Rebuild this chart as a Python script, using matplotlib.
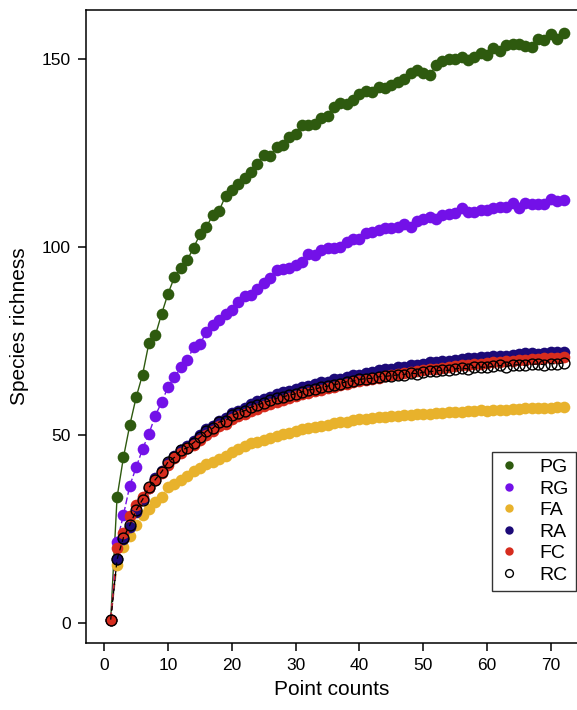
import matplotlib
matplotlib.use("Agg")
import matplotlib.pyplot as plt
import numpy as np

plt.rcParams['font.family'] = ['Liberation Sans', 'DejaVu Sans']

point_counts = list(range(1, 73))

PG = [1, 33.5, 44.1, 52.7, 60.1, 66.1, 74.5, 76.5, 82.3, 87.6, 92, 94.5, 96.5, 99.8, 103.3, 105.3, 108.4, 109.6,
      113.5, 115.2, 116.6, 118.2, 119.9, 122.1, 124.3, 124.2, 126.4, 127, 129.2, 130.1, 132.3, 132.3, 132.5, 134.1,
      134.7, 137.2, 138.2, 137.9, 139, 140.5, 141.4, 141.2, 142.5, 142.3, 143, 143.8, 144.7, 146.2, 146.9, 146.2,
      145.6, 148.2, 149.4, 149.8, 150, 150.3, 149.6, 150.5, 151.6, 150.9, 152.7, 152.1, 153.6, 153.8, 154, 153.4,
      153.1, 155.3, 154.9, 156.5, 155.1, 156.7]

RG = [1, 21.7, 28.8, 36.6, 41.5, 46.3, 50.4, 55.2, 58.8, 62.8, 65.5, 68, 69.9, 73.4, 74.2, 77.4, 79.2, 80.5, 82.3,
      83.2, 85.4, 86.9, 87.2, 88.7, 90.3, 91.8, 93.8, 94, 94.5, 95.1, 96, 98.1, 97.8, 99.1, 99.6, 99.6, 100, 101.3,
      102.2, 102, 103.7, 104, 104.4, 104.9, 105.1, 105.3, 106.2, 105.3, 106.9, 107.3, 107.8, 107.5, 108.4, 108.7,
      108.9, 110.2, 109.3, 109.3, 109.7, 109.9, 110.2, 110.6, 110.5, 111.7, 110.2, 111.7, 111.3, 111.3, 111.3,
      112.8, 112.2, 112.4]

FA = [1, 15.5, 20.3, 23.3, 26.1, 28.8, 30.5, 32.3, 33.6, 36.1, 37, 38, 39.1, 40.4, 41.4, 42.3, 42.8, 43.7, 44.4,
      45.6, 46.3, 47, 47.8, 48.2, 48.6, 49.2, 49.8, 50.2, 50.5, 51.2, 51.5, 51.8, 52.2, 52.5, 52.8, 53.2, 53.4,
      53.6, 54, 54.2, 54.3, 54.6, 54.8, 54.9, 55.1, 55.2, 55.4, 55.3, 55.5, 55.7, 55.6, 55.9, 56, 56.1, 56.2, 56.1,
      56.4, 56.5, 56.6, 56.5, 56.7, 56.8, 56.8, 57, 57, 57.1, 57.2, 57.1, 57.3, 57.3, 57.4, 57.4]

RA = [1, 17, 22.5, 25.5, 29.5, 33, 36, 38.5, 40.5, 42.5, 44.5, 46, 47, 48.5, 50, 51.5, 52.5, 53.8, 54.5, 55.8,
      56.5, 57.3, 58.2, 59, 59.6, 60.2, 61, 61.5, 61.6, 62.2, 62.8, 63, 63.5, 64, 64.2, 64.8, 65, 65.5, 66, 66.1,
      66.6, 66.8, 67.3, 67.5, 67.6, 68, 68.2, 68.6, 68.5, 69, 69.3, 69.4, 69.7, 69.8, 70, 70.3, 70.4, 70.5, 70.7,
      70.8, 71, 71.1, 71, 71.4, 71.5, 71.7, 71.8, 71.6, 71.9, 72, 72.1, 72.1]

FC = [1, 20, 24, 28.5, 31.5, 33.5, 36, 38, 40, 42, 43.8, 45.2, 46.5, 47.5, 48.8, 50, 51.2, 52.3, 53, 54.2, 55,
      55.6, 56.4, 57, 57.8, 58.3, 58.8, 59.3, 59.8, 60.3, 60.8, 61.2, 61.6, 62, 62.5, 62.8, 63.3, 63.6, 64, 64.4,
      64.7, 65, 65.3, 65.6, 65.9, 66.2, 66.4, 66.7, 67, 67.2, 67.5, 67.6, 67.9, 68.1, 68.3, 68.5, 68.7, 68.8, 69,
      69.2, 69.3, 69.5, 69.6, 69.8, 69.9, 70, 70.1, 70.3, 70.4, 70.5, 70.6, 70.7]

RC = [1, 17, 22.8, 26.1, 30.1, 32.9, 36.1, 38.2, 40.3, 42.9, 44.1, 46, 46.6, 48, 49.4, 51.1, 51.8, 53.5, 53.8,
      55.3, 55.8, 56.5, 57.4, 58, 58.6, 59.2, 59.8, 60.2, 60.6, 61, 61.5, 62, 62.2, 62.7, 63, 63.4, 63.7, 64.2,
      64.4, 64.8, 65, 65.1, 65.5, 65.6, 65.8, 66, 66.1, 66.5, 66.3, 66.7, 66.9, 67, 67.3, 67.2, 67.6, 67.8, 67.6,
      68, 68.1, 68, 68.3, 68.5, 68.2, 68.6, 68.7, 68.5, 68.8, 68.9, 68.7, 69, 68.9, 69.2]

series_names = ['PG', 'RG', 'FA', 'RA', 'FC', 'RC']
series_values = [PG, RG, FA, RA, FC, RC]
colors = ['#2e5a0f', '#7311e8', '#e8b22c', '#1c0a78', '#d62c1e', '#000000']

W, H = 577, 710
fig = plt.figure(figsize=(W / 100, H / 100), dpi=100)
ax = fig.add_axes([86 / W, (H - 643) / H, 491 / W, 633 / H])

ms = 8.4
for name, vals, c in zip(series_names, series_values, colors):
    if name == 'RC':
        ax.plot(point_counts, vals, color='black', lw=0.9, ls=(0, (4, 3)), zorder=3)
        ax.plot(point_counts, vals, ls='none', marker='o', ms=ms - 0.6, mfc='none', mec='black',
                mew=1.0, label=name, zorder=4)
    else:
        ls = '-' if name == 'PG' else (0, (5, 2))
        ax.plot(point_counts, vals, color=c, lw=1.0, ls=ls, zorder=2)
        ax.plot(point_counts, vals, ls='none', marker='o', ms=ms, mfc=c, mec=c, mew=0,
                label=name, zorder=3)

ax.set_xlim(-2.87, 74.1)
ax.set_ylim(-5.2, 162.9)
ax.set_xticks([0, 10, 20, 30, 40, 50, 60, 70])
ax.set_yticks([0, 50, 100, 150])
ax.tick_params(direction='out', length=6, width=1.1, labelsize=12.5, pad=5, colors='black')
for s in ['left', 'bottom', 'top']:
    ax.spines[s].set_linewidth(1.1)
ax.spines['right'].set_visible(False)

ax.set_xlabel('Point counts', fontsize=15, labelpad=5)
ax.set_ylabel('Species richness', fontsize=15, labelpad=9)

handles, labels = ax.get_legend_handles_labels()
leg = ax.legend(handles, labels, loc='upper left', bbox_to_anchor=(0.827, 0.302),
                frameon=True, fancybox=False, fontsize=14, handlelength=1.0,
                handletextpad=1.1, borderpad=0.35, labelspacing=0.2, markerscale=0.72,
                borderaxespad=0)
leg.get_frame().set_edgecolor('black')
leg.get_frame().set_linewidth(1.0)

fig.savefig('out.png', dpi=100)
